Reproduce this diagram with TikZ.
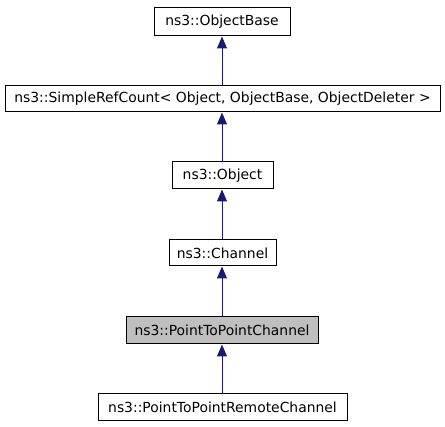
\documentclass[tikz,border=0pt]{standalone}
\usepackage{fontspec}
\setmainfont{DejaVu Sans}
\usetikzlibrary{arrows.meta}
\definecolor{edgeblue}{HTML}{191970}
\definecolor{boxgray}{HTML}{BFBFBF}
\begin{document}
\begin{tikzpicture}[x=1pt,y=-1pt,
  cls/.style={draw=black,line width=1pt,fill=white,inner sep=0pt,
    font=\fontsize{13.9}{16}\selectfont},
  inh/.style={draw=edgeblue,line width=1pt,-{Triangle[length=12pt,width=10pt,fill=edgeblue]}}]
\useasboundingbox[fill=white] (0,0) rectangle (445,427);
\node[cls,minimum width=136pt,minimum height=28pt] (ob) at (222,22) {ns3::ObjectBase};
\node[cls,minimum width=435pt,minimum height=26pt] (src) at (222.5,99) {ns3::SimpleRefCount< Object, ObjectBase, ObjectDeleter >};
\node[cls,minimum width=101pt,minimum height=27pt] (obj) at (222.5,175.5) {ns3::Object};
\node[cls,minimum width=107pt,minimum height=26pt] (ch) at (222.5,253) {ns3::Channel};
\node[cls,fill=boxgray,minimum width=192pt,minimum height=27pt] (p2p) at (222,330.5) {ns3::PointToPointChannel};
\node[cls,minimum width=249pt,minimum height=27pt] (rem) at (222.5,407.5) {ns3::PointToPointRemoteChannel};
\draw[inh] (src.north -| ob.south) -- (ob.south);
\draw[inh] (obj.north -| ob.south) -- (src.south -| ob.south);
\draw[inh] (ch.north -| ob.south) -- (obj.south -| ob.south);
\draw[inh] (p2p.north -| ob.south) -- (ch.south -| ob.south);
\draw[inh] (rem.north -| ob.south) -- (p2p.south -| ob.south);
\end{tikzpicture}
\end{document}
